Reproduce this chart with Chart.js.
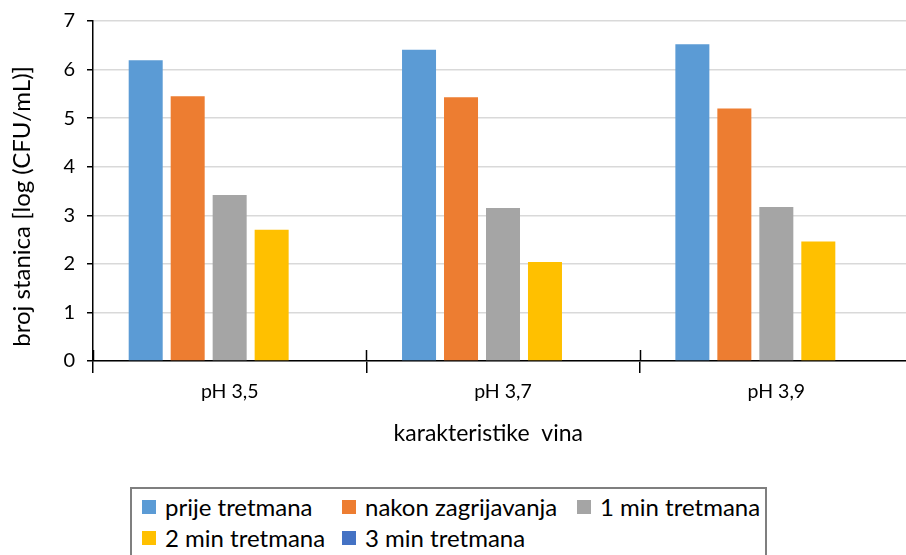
<!DOCTYPE html>
<html>
<head>
<meta charset="utf-8">
<script src="https://cdn.jsdelivr.net/npm/chart.js@4.4.0/dist/chart.umd.min.js"></script>
<style>
  html, body { margin: 0; padding: 0; background: #fff; overflow: hidden; width: 906px; height: 555px; }
  #wrap { position: absolute; left: 0; top: -3px; width: 913px; height: 473px; }
  #legend {
    position: absolute; left: 130px; top: 487px; width: 637px; height: 90px;
    border: 2px solid #7f7f7f; box-sizing: border-box;
    font-family: Lato, sans-serif; font-size: 24px; color: #000;
    display: grid; grid-template-columns: 200px 235px auto; grid-auto-rows: 31px;
    padding: 2px 0 0 10px; align-items: center;
  }
  .item { display: flex; align-items: center; white-space: nowrap; }
  .box { width: 14px; height: 14px; margin-right: 9px; flex: none; }
</style>
</head>
<body>
<div id="wrap"><canvas id="chartCanvas" width="913" height="473"></canvas></div>
<div id="legend"></div>
<script>
const categories = ['pH 3,5', 'pH 3,7', 'pH 3,9'];
const seriesNames = ['prije tretmana', 'nakon zagrijavanja', '1 min tretmana', '2 min tretmana', '3 min tretmana'];
const seriesColors = ['#5B9BD5', '#ED7D31', '#A5A5A5', '#FFC000', '#4472C4'];

const prijeTretmana = [6.19, 6.41, 6.52];
const nakonZagrijavanja = [5.45, 5.43, 5.20];
const min1Tretmana = [3.42, 3.15, 3.17];
const min2Tretmana = [2.70, 2.04, 2.46];
const min3Tretmana = [null, null, null];

const yTicks = [0, 1, 2, 3, 4, 5, 6, 7];

const seriesValues = [prijeTretmana, nakonZagrijavanja, min1Tretmana, min2Tretmana, min3Tretmana];

// titles sit a little off-centre in the original, trailing spaces nudge them
const pad = n => '\u00a0'.repeat(n);

// short black marks crossing the x axis at category boundaries
const crossTicks = {
    id: 'crossTicks',
    afterDraw(chart) {
        const x = chart.scales.x;
        const ctx = chart.ctx;
        const half = (x.getPixelForValue(1) - x.getPixelForValue(0)) / 2;
        ctx.save();
        ctx.strokeStyle = '#000';
        ctx.lineWidth = 1.5;
        for (let i = 0; i <= categories.length; i++) {
            const px = Math.round(x.getPixelForValue(0) - half + i * 2 * half) + 0.5;
            ctx.beginPath();
            ctx.moveTo(px, chart.chartArea.bottom - 11);
            ctx.lineTo(px, chart.chartArea.bottom);
            ctx.stroke();
        }
        ctx.restore();
    }
};

const ctx = document.getElementById('chartCanvas').getContext('2d');

new Chart(ctx, {
    type: 'bar',
    data: {
        labels: categories,
        datasets: seriesNames.map((name, i) => ({
            label: name,
            data: seriesValues[i],
            backgroundColor: seriesColors[i],
            borderWidth: 0,
            categoryPercentage: 0.768,
            barPercentage: 0.81
        }))
    },
    options: {
        responsive: false,
        animation: false,
        layout: { padding: { top: 14, right: 0, bottom: 0, left: 0 } },
        plugins: {
            legend: { display: false },
            tooltip: { enabled: false }
        },
        scales: {
            x: {
                grid: { display: true, drawOnChartArea: false, offset: true, tickLength: 12, color: '#000', lineWidth: 1.5 },
                border: { color: '#000', width: 1.5 },
                ticks: { font: { family: 'Lato', size: 19.5 }, color: '#000', padding: 7 },
                title: {
                    display: true, text: 'karakteristike  vina' + pad(5), color: '#000',
                    font: { family: 'Lato', size: 23 }, padding: { top: 0, bottom: 23 }
                },
                afterFit: s => { s.height = 109; }
            },
            y: {
                min: 0,
                max: 7,
                afterBuildTicks: s => { s.ticks = yTicks.map(v => ({ value: v })); },
                ticks: { font: { family: 'Lato', size: 20 }, color: '#000', padding: 12 },
                grid: { color: '#d9d9d9', lineWidth: 1.5, tickColor: '#000', tickLength: 6 },
                border: { color: '#000', width: 1.5 },
                title: {
                    display: true, text: 'broj stanica [log (CFU/mL)]' + pad(5), color: '#000',
                    font: { family: 'Lato', size: 24 }, padding: { top: 8, bottom: 0 }
                },
                afterFit: s => { s.width = 93; }
            }
        }
    },
    plugins: [crossTicks]
});

const legendDiv = document.getElementById('legend');
seriesNames.forEach((name, i) => {
    const item = document.createElement('div');
    item.classList.add('item');
    const box = document.createElement('span');
    box.classList.add('box');
    box.style.background = seriesColors[i];
    const label = document.createElement('span');
    label.textContent = name;
    item.appendChild(box);
    item.appendChild(label);
    legendDiv.appendChild(item);
});
</script>
</body>
</html>
